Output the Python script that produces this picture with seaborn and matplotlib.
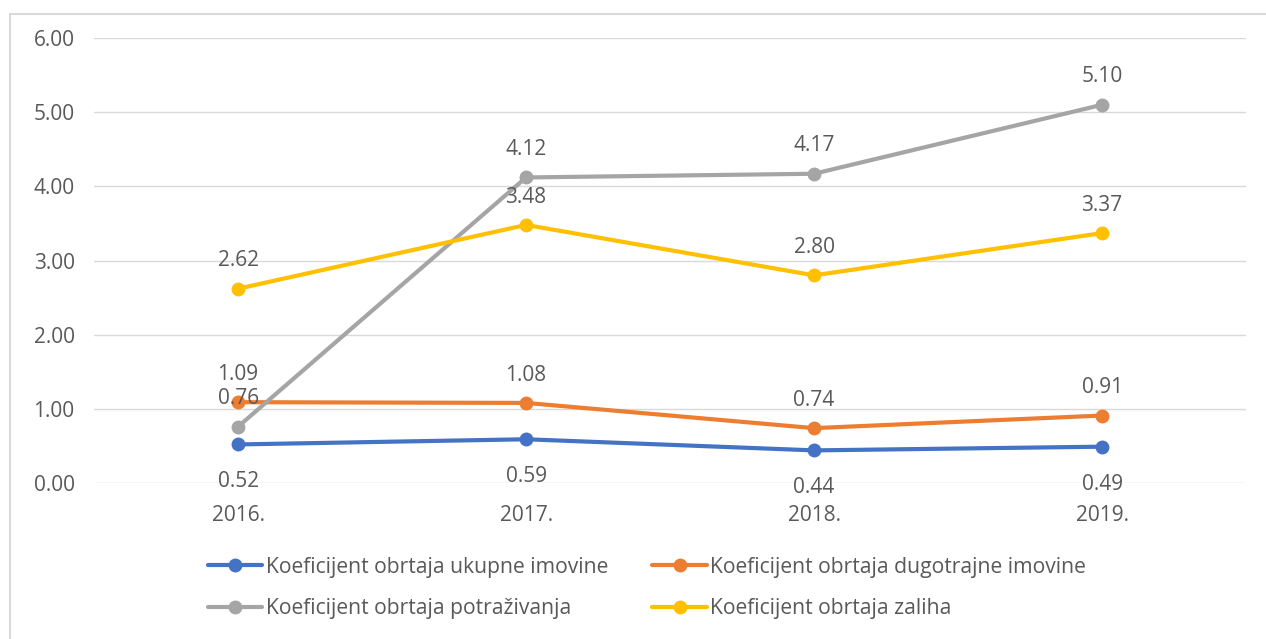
import pandas as pd
import matplotlib
matplotlib.use("Agg")
import matplotlib.pyplot as plt
import seaborn as sns
from matplotlib.patches import Rectangle

# chart data
years = ["2016.", "2017.", "2018.", "2019."]
ukupne_imovine = [0.52, 0.59, 0.44, 0.49]
dugotrajne_imovine = [1.09, 1.08, 0.74, 0.91]
potrazivanja = [0.76, 4.12, 4.17, 5.10]
zaliha = [2.62, 3.48, 2.80, 3.37]

series_names = [
    "Koeficijent obrtaja ukupne imovine",
    "Koeficijent obrtaja dugotrajne imovine",
    "Koeficijent obrtaja potraživanja",
    "Koeficijent obrtaja zaliha",
]
colors = ["#4472C4", "#ED7D31", "#A5A5A5", "#FFC000"]

df = pd.DataFrame({
    "year": years * 4,
    "value": ukupne_imovine + dugotrajne_imovine + potrazivanja + zaliha,
    "series": [s for s in series_names for _ in years],
})

sns.set_style("white")
plt.rcParams["font.family"] = ["Open Sans", "DejaVu Sans"]
text_col = "#595959"

fig = plt.figure(figsize=(12.66, 6.39), dpi=100)
ax = fig.add_axes([0.0743, 0.2441, 0.910, 0.6964])

sns.lineplot(data=df, x="year", y="value", hue="series", palette=colors,
             marker="o", markersize=10, markeredgewidth=0, linewidth=3,
             ax=ax, legend=True)

ax.set_xlim(-0.5, 3.5)
ax.set_ylim(0, 6)
ax.set_yticks([0, 1, 2, 3, 4, 5, 6])
ax.set_yticklabels([f"{v:.2f}" for v in range(7)])
ax.grid(axis="y", color="#D9D9D9", linewidth=1)
ax.set_axisbelow(True)
for sp in ax.spines.values():
    sp.set_visible(False)
ax.set_xlabel("")
ax.set_ylabel("")
ax.tick_params(axis="both", length=0, labelsize=15, labelcolor=text_col)
ax.tick_params(axis="y", pad=14)
ax.tick_params(axis="x", pad=16)

# data labels
all_vals = [ukupne_imovine, dugotrajne_imovine, potrazivanja, zaliha]
for i, vals in enumerate(all_vals):
    for j, v in enumerate(vals):
        off = -27 if i == 0 else 20
        ax.annotate(f"{v:.2f}", (j, v), xytext=(0, off), textcoords="offset points",
                    ha="center", va="center", fontsize=15, color=text_col)

# legend filled row by row like the original
handles, labels = ax.get_legend_handles_labels()
ax.legend_.remove()
order = [0, 2, 1, 3]
fig.legend([handles[k] for k in order], [labels[k] for k in order],
           loc="center", bbox_to_anchor=(0.511, 0.08), ncol=2,
           frameon=False, fontsize=15.2, labelcolor=text_col, handlelength=2.6,
           handletextpad=0.15, columnspacing=2.1, labelspacing=0.95)

# light frame around the chart area
fig.patches.append(Rectangle((10 / 1266, -0.1), 1.2, 1.1 - 14 / 639,
                             transform=fig.transFigure, fill=False,
                             edgecolor="#D9D9D9", linewidth=1.5))

fig.savefig("out.png", dpi=100)
